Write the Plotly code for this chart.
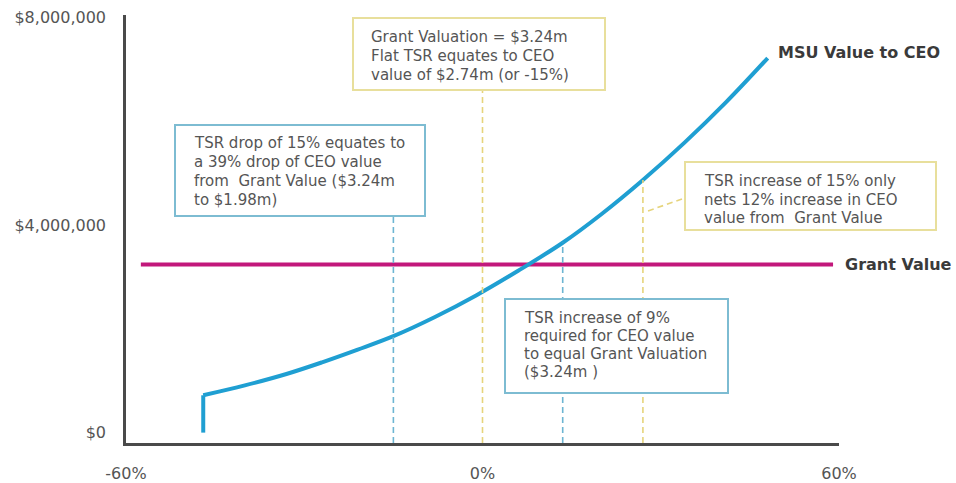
import plotly.graph_objects as go

# --- data -------------------------------------------------------------
# MSU value to the CEO against TSR (share price change, %)
tsr_pct = [-47, -47, -40, -33, -27, -21, -15, -8, -1, 6, 13.5, 20, 27, 34,
           41, 48]
msu_value = [0, 0.72e6, 0.91e6, 1.13e6, 1.355e6, 1.60e6, 1.86e6, 2.23e6,
             2.65e6, 3.12e6, 3.66e6, 4.21e6, 4.87e6, 5.59e6, 6.37e6, 7.22e6]

grant_value = 3.24e6
grant_span = [-57.5, 59]

# reference TSR levels marked with dashed drop lines
drop_tsr = [-15, 0, 13.5, 27]

x_ticks = [-60, 0, 60]
x_tick_text = ["-60%", "0%", "60%"]
y_ticks = [0, 4e6, 8e6]
y_range = [-0.2e6, 8.05e6]

callout_top = ["Grant Valuation = $3.24m",
               "Flat TSR equates to CEO",
               "value of $2.74m (or -15%)"]
callout_left = ["TSR drop of 15% equates to",
                "a 39% drop of CEO value",
                "from  Grant Value ($3.24m",
                "to $1.98m)"]
callout_right = ["TSR increase of 15% only",
                 "nets 12% increase in CEO",
                 "value from  Grant Value"]
callout_low = ["TSR increase of 9%",
               "required for CEO value",
               "to equal Grant Valuation",
               "($3.24m )"]

# --- layout helpers ---------------------------------------------------
W, H = 956, 483
L, R, T, B = 126, 117, 15, 40
PW, PH = W - L - R, H - T - B


def px_x(px):
    return (px - L) / PW


def px_y(py):
    return (H - B - py) / PH


BLUE = "#1f9fd2"
MAGENTA = "#c2187b"
BLUE_DASH = "#6db5d2"
YELLOW_DASH = "#e6d47c"
BLUE_BOX = "#7dbcd2"
YELLOW_BOX = "#e8df9c"
TEXT = "#555555"
FONT = "DejaVu Sans"

fig = go.Figure()

fig.add_trace(go.Scatter(x=grant_span, y=[grant_value, grant_value],
                         mode="lines", line=dict(color=MAGENTA, width=4),
                         hoverinfo="skip"))
# vertical step where the MSU value begins, then the smooth value curve
fig.add_trace(go.Scatter(x=tsr_pct[:2], y=msu_value[:2], mode="lines",
                         line=dict(color=BLUE, width=4), hoverinfo="skip"))
fig.add_trace(go.Scatter(x=tsr_pct[1:], y=msu_value[1:], mode="lines",
                         line=dict(color=BLUE, width=4, shape="spline",
                                   smoothing=1.0),
                         hoverinfo="skip"))

shapes = []
dash = dict(width=1.6, dash="6px,4px")

# drop lines: two run up to a callout box, two up to the curve
shapes.append(dict(type="line", xref="x", yref="y domain",
                   x0=drop_tsr[0], x1=drop_tsr[0], y0=0, y1=px_y(216),
                   line=dict(color=BLUE_DASH, **dash), layer="above"))
shapes.append(dict(type="line", xref="x", yref="y domain",
                   x0=drop_tsr[1], x1=drop_tsr[1], y0=0, y1=px_y(90),
                   line=dict(color=YELLOW_DASH, **dash), layer="above"))
shapes.append(dict(type="line", xref="x", yref="y",
                   x0=drop_tsr[2], x1=drop_tsr[2], y0=y_range[0],
                   y1=msu_value[tsr_pct.index(drop_tsr[2])],
                   line=dict(color=BLUE_DASH, **dash), layer="above"))
shapes.append(dict(type="line", xref="x", yref="y",
                   x0=drop_tsr[3], x1=drop_tsr[3], y0=y_range[0],
                   y1=msu_value[tsr_pct.index(drop_tsr[3])],
                   line=dict(color=YELLOW_DASH, **dash), layer="above"))
# leader from the right-hand callout to its drop line
shapes.append(dict(type="line", xref="paper", yref="paper",
                   x0=px_x(682), y0=px_y(199), x1=px_x(645), y1=px_y(212),
                   line=dict(color=YELLOW_DASH, **dash), layer="above"))

# callout boxes: (left, top, right, bottom, border colour)
boxes = [
    (353, 18, 605, 90, YELLOW_BOX),
    (175, 125, 425, 216, BLUE_BOX),
    (685, 162, 936, 230, YELLOW_BOX),
    (505, 299, 728, 393, BLUE_BOX),
]
for x0, y0, x1, y1, col in boxes:
    shapes.append(dict(type="rect", xref="paper", yref="paper",
                       x0=px_x(x0), x1=px_x(x1), y0=px_y(y1), y1=px_y(y0),
                       line=dict(color=col, width=2), fillcolor="white",
                       layer="above"))

annotations = []
callouts = [
    (callout_top, 369, [37, 56, 75]),
    (callout_left, 192, [143, 162, 181, 200]),
    (callout_right, 702, [181, 200, 218]),
    (callout_low, 522, [318, 336, 354, 372]),
]
for lines, left, rows in callouts:
    for txt, row in zip(lines, rows):
        annotations.append(dict(text=txt, xref="paper", yref="paper",
                                x=px_x(left), y=px_y(row), xanchor="left",
                                yanchor="middle", showarrow=False,
                                font=dict(family=FONT, size=15, color=TEXT)))

annotations.append(dict(text="<b>MSU Value to CEO</b>", xref="x", yref="y",
                        x=tsr_pct[-1], y=msu_value[-1], xanchor="left",
                        yanchor="middle", xshift=8, yshift=6, showarrow=False,
                        font=dict(family=FONT, size=16, color="#3a3a3a")))
annotations.append(dict(text="<b>Grant Value</b>", xref="x", yref="y",
                        x=grant_span[-1], y=grant_value, xanchor="left",
                        yanchor="middle", xshift=10, showarrow=False,
                        font=dict(family=FONT, size=16, color="#3a3a3a")))

fig.update_layout(
    width=W, height=H,
    margin=dict(l=L, r=R, t=T, b=B, autoexpand=False),
    paper_bgcolor="white", plot_bgcolor="white",
    showlegend=False,
    shapes=shapes, annotations=annotations,
    xaxis=dict(range=[-60, 60], tickmode="array", tickvals=x_ticks,
               ticktext=x_tick_text,
               showgrid=False, zeroline=False, showline=True,
               linecolor="#4a4a4a", linewidth=2.5, ticks="",
               ticklabelstandoff=14, automargin=False,
               tickfont=dict(family=FONT, size=16, color=TEXT)),
    yaxis=dict(range=y_range, tickvals=y_ticks, tickformat="$,.0f",
               showgrid=False, zeroline=False, showline=True,
               linecolor="#4a4a4a", linewidth=2.5, ticks="",
               ticklabelstandoff=14, automargin=False,
               tickfont=dict(family=FONT, size=16, color=TEXT)),
)

fig.write_html("out.html")
